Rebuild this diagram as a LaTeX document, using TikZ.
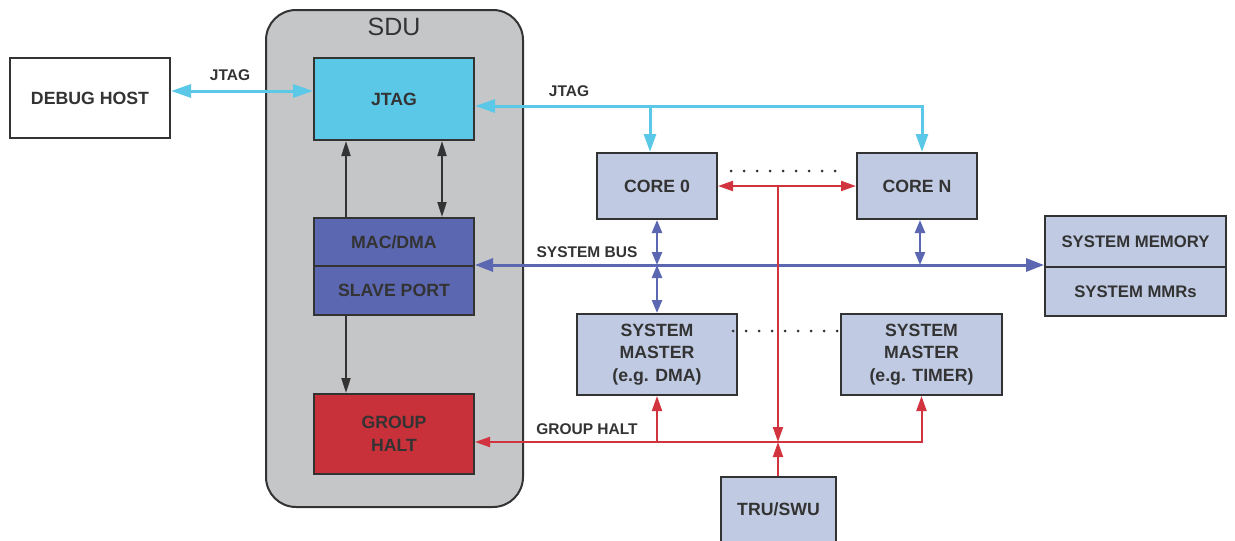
\documentclass[tikz,border=0pt]{standalone}
\usepackage{fontspec}
\setmainfont{Liberation Sans}
\usetikzlibrary{arrows.meta,calc}
\definecolor{txt}{HTML}{333333}
\definecolor{sdugray}{HTML}{C5C6C8}
\definecolor{cyanc}{HTML}{5BC8E8}
\definecolor{busc}{HTML}{5B67B0}
\definecolor{redc}{HTML}{D2343F}
\definecolor{ghfill}{HTML}{C8303A}
\definecolor{lblue}{HTML}{C0CBE3}
\begin{document}
\begin{tikzpicture}[x=1pt,y=-1pt,
  box/.style={draw=txt, line width=2pt, inner sep=0pt, align=center, text=txt,
    font=\bfseries\fontsize{17.7}{22.5}\selectfont},
  lbox/.style={box, fill=lblue},
  lbl/.style={text=txt, font=\bfseries\fontsize{15.5}{18}\selectfont, inner sep=0pt},
  cyl2/.style={draw=cyanc, line width=3pt},
  blk/.style={draw=txt, line width=2pt},
  busl/.style={draw=busc, line width=3pt},
  redl/.style={draw=redc, line width=2pt},
  dots/.style={draw=txt, line width=3pt, line cap=round, dash pattern=on 0pt off 13pt}
]
\useasboundingbox (0,0) rectangle (1235,541);

% SDU container
\node[draw=txt, line width=2pt, fill=sdugray, rounded corners=30pt,
      minimum width=257, minimum height=497, inner sep=0pt] (sdu) at (394.5,258.5) {};
\node[text=txt, font=\fontsize{25}{30}\selectfont, inner sep=0pt] (sdut) at (394,27) {SDU};

% boxes
\node[box, fill=white, minimum width=160, minimum height=80] (debug) at (90,98) {DEBUG HOST};
\node[box, fill=cyanc, minimum width=160, minimum height=82] (jtag) at (394,99) {JTAG};
\node[box, fill=busc, minimum width=160, minimum height=48] (mac) at (394,242) {MAC/DMA};
\node[box, fill=busc, minimum width=160, minimum height=49] (slave) at (394,290.5) {SLAVE PORT};
\node[box, fill=ghfill, minimum width=160, minimum height=80] (gh) at (394,434) {GROUP\\HALT};

\node[lbox, minimum width=120, minimum height=66] (core0) at (657,186) {CORE 0};
\node[lbox, minimum width=120, minimum height=66] (coreN) at (917,186) {CORE N};
\node[lbox, minimum width=160, minimum height=81] (sm1) at (657,354.5) {SYSTEM\\MASTER\\(e.g. DMA)};
\node[lbox, minimum width=161, minimum height=81] (sm2) at (921.5,354.5) {SYSTEM\\MASTER\\(e.g. TIMER)};
\node[lbox, minimum width=181, minimum height=51, font=\bfseries\fontsize{16.7}{20}\selectfont] (mem) at (1135.5,241.5) {SYSTEM MEMORY};
\node[lbox, minimum width=181, minimum height=49, font=\bfseries\fontsize{16.7}{20}\selectfont] (mmr) at (1135.5,291.5) {SYSTEM MMRs};
\node[lbox, minimum width=115, anchor=north, text height=38.3pt, text depth=30pt] (tru) at (778.5,476) {TRU/SWU};

% connector labels
\node[lbl] (l1) at (230,75) {JTAG};
\node[lbl] (l2) at (569,91) {JTAG};
\node[lbl] (l3) at (587,252) {SYSTEM BUS};
\node[lbl] (l4) at (587,429) {GROUP HALT};

% dotted
\draw[dots] ([xshift=13pt,yshift=15pt]core0.east) -- ([xshift=-20pt,yshift=15pt]coreN.west);
\draw[dots] ([xshift=-5pt,yshift=23.5pt]sm1.east) -- ([yshift=23.5pt]sm2.west);

% JTAG links
\draw[cyl2, {Triangle[length=20pt,width=13pt]}-{Triangle[length=20pt,width=13pt]}]
  ([yshift=7pt]debug.east) -- ([yshift=7pt]debug.east -| jtag.west);
\coordinate (jb) at (0,106);
\draw[cyl2, {Triangle[length=20pt,width=13pt]}-{Triangle[length=18pt,width=12pt]}]
  ([yshift=-7pt]jtag.east) -| ([xshift=5pt]coreN.north);
\draw[cyl2, -{Triangle[length=18pt,width=12pt]}]
  ([xshift=-7pt]core0.north |- jb) -- ([xshift=-7pt]core0.north);

% internal SDU
\draw[blk, -{Triangle[length=15pt,width=9pt]}] ([xshift=-48pt]mac.north) -- ([xshift=-48pt]mac.north |- jtag.south);
\draw[blk, {Triangle[length=15pt,width=9pt]}-{Triangle[length=15pt,width=9pt]}] ([xshift=48pt]mac.north) -- ([xshift=48pt]mac.north |- jtag.south);
\draw[blk, -{Triangle[length=15pt,width=9pt]}] ([xshift=-48pt]slave.south) -- ([xshift=-48pt]slave.south |- gh.north);

% system bus
\coordinate (bus) at (slave.north east);
\draw[busl, {Triangle[length=18pt,width=13pt]}-{Triangle[length=18pt,width=13pt]}]
  (slave.north east) -- (slave.north east -| mem.west);
\draw[busl, line width=2.5pt, {Triangle[length=13pt,width=10pt]}-{Triangle[length=13pt,width=10pt]}]
  (core0.south) -- (core0.south |- bus);
\draw[busl, line width=2.5pt, {Triangle[length=13pt,width=10pt]}-{Triangle[length=13pt,width=10pt]}]
  (core0.south |- bus) -- (sm1.north);
\draw[busl, line width=2.5pt, {Triangle[length=13pt,width=10pt]}-{Triangle[length=13pt,width=10pt]}]
  ([xshift=3pt]coreN.south) -- ([xshift=3pt]coreN.south |- bus);

% red / group halt
\coordinate (ghj) at (778,442);
\draw[redl, {Triangle[length=15pt,width=10pt]}-{Triangle[length=15pt,width=10pt]}]
  (core0.east) -- (coreN.west);
\draw[redl, -{Triangle[length=15pt,width=10pt]}] (ghj |- core0.east) -- (ghj);
\draw[redl, -{Triangle[length=15pt,width=10pt]}] (tru.north -| ghj) -- (ghj);
\draw[redl, {Triangle[length=15pt,width=10pt]}-{Triangle[length=15pt,width=10pt]}]
  (gh.east |- ghj) -| (sm2.south);
\draw[redl, -{Triangle[length=15pt,width=10pt]}] (sm1.south |- ghj) -- (sm1.south);
\end{tikzpicture}
\end{document}
